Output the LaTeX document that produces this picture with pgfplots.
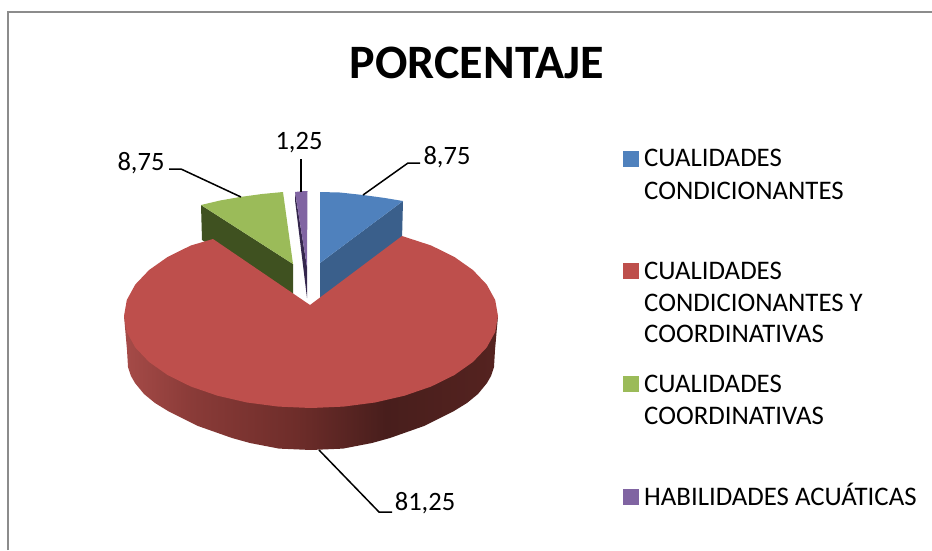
\documentclass[border=0pt]{standalone}
\usepackage{fontspec}
\setmainfont{Carlito}
\usepackage{pgfplots}
\pgfplotsset{compat=1.18}

\definecolor{blueTop}{HTML}{4F81BD}
\definecolor{blueSide}{HTML}{3A5F8B}
\definecolor{redTop}{HTML}{BE4F4C}
\definecolor{greenTop}{HTML}{9BBB59}
\definecolor{greenSide}{HTML}{3F5120}
\definecolor{purpleTop}{HTML}{8064A2}
\definecolor{purpleSide}{HTML}{35274D}
\definecolor{frameGray}{HTML}{8C8C8C}
\definecolor{redA}{HTML}{A64B48}
\definecolor{redB}{HTML}{8A3B38}
\definecolor{redC}{HTML}{6E2D2A}
\definecolor{redD}{HTML}{481E1C}
\definecolor{redE}{HTML}{552320}

% side of the red slice, 25bp-75bp spans the path
\pgfdeclarehorizontalshading{redside}{100bp}{
  color(0bp)=(redA);
  color(25bp)=(redA);
  color(34bp)=(redB);
  color(48bp)=(redC);
  color(60bp)=(redD);
  color(75bp)=(redE);
  color(100bp)=(redE)}

\tikzset{
  lbl/.style={font=\fontsize{26.5}{30}\selectfont, inner sep=0pt},
  leg/.style={font=\fontsize{26.8}{30}\selectfont, inner sep=0pt, anchor=base west},
}

\begin{document}
\begin{tikzpicture}
\begin{axis}[
  scale only axis, width=932pt, height=550pt,
  xmin=0, xmax=932, ymin=0, ymax=550, y dir=reverse,
  hide axis, clip=true,
]
% keeps the page at the full 932x550
\path (axis cs:0,0) rectangle (axis cs:932,550);

% frame
\addplot[frameGray, line width=1.5pt] coordinates {(8,550) (8,12) (932,12)};

% side faces
\addplot[fill=blueSide, draw=none] coordinates {(320,263) (403,201) (402,240) (320,300)} -- cycle;
\addplot[fill=greenSide, draw=none] coordinates {(201,205) (293,264) (293,297) (202,240)} -- cycle;
\addplot[fill=purpleSide, draw=none] coordinates {(295,192) (307,267) (307,298) (295,200)} -- cycle;
\addplot[shading=redside, draw=none] coordinates {
  (124,316) (127,350) (128,367) (131,376) (135,383) (144,394) (155,403) (168,411)
  (182,418) (198,426) (215,432) (232,438) (250,443) (279,448.6) (311,450) (343,448.6)
  (372,443) (390,438) (407,432) (424,426) (440,418) (454,411) (467,403) (478,394)
  (487,383) (491,376) (494,367) (495,350) (498,316)} -- cycle;

% top faces
\addplot[fill=blueTop, draw=none] coordinates {(320,263) (320,192) (340,192.5) (363,195) (385,198) (403,201)} -- cycle;
\addplot[fill=greenTop, draw=none] coordinates {(293,264) (201,205) (220,200.5) (240,197) (262,194) (283,192)} -- cycle;
\addplot[fill=purpleTop, draw=none] coordinates {(307,267) (295,192) (301,191.3) (307.5,191)} -- cycle;
\addplot[fill=redTop, draw=none] coordinates {
  (310,305) (402,236) (431.2,245.5) (454.3,256.9) (472.9,270) (486.7,284.5)
  (495.2,300) (498,316) (495.2,332) (486.7,347.5) (472.9,362) (454.3,375.1)
  (431.2,386.5) (404.5,395.7) (375,402.5) (343.5,406.6) (311,408) (278.5,406.6)
  (247,402.5) (217.5,395.7) (190.8,386.5) (167.7,375.1) (149.1,362) (135.3,347.5)
  (126.8,332) (124,316) (126.8,300) (135.3,284.5) (149.1,270) (167.7,256.9)
  (190.8,245.5) (213,239)} -- cycle;

% leader lines
\addplot[black, line width=1.5pt] coordinates {(363,195) (408,163) (420,163)};
\addplot[black, line width=1.5pt] coordinates {(241,197) (181,169) (169,169)};
\addplot[black, line width=1.5pt] coordinates {(301,192) (301,159)};
\addplot[black, line width=1.5pt] coordinates {(319,450) (379,512) (392,512)};

% legend keys
\addplot[only marks, mark=square*, mark size=7.5pt, blueTop, mark options={draw=none}] coordinates {(630.5,158.5)};
\addplot[only marks, mark=square*, mark size=7.5pt, redTop, mark options={draw=none}] coordinates {(630.5,270.5)};
\addplot[only marks, mark=square*, mark size=7.5pt, greenTop, mark options={draw=none}] coordinates {(630.5,383.5)};
\addplot[only marks, mark=square*, mark size=7.5pt, purpleTop, mark options={draw=none}] coordinates {(630.5,496.5)};

% title
\node[anchor=center, font=\fontsize{48}{54}\selectfont\bfseries] at (axis cs:477,63) {PORCENTAJE};

% data labels
\node[lbl, anchor=center] at (axis cs:447,157) {8,75};
\node[lbl, anchor=center] at (axis cs:141,163) {8,75};
\node[lbl, anchor=center] at (axis cs:299,143) {1,25};
\node[lbl, anchor=center] at (axis cs:425,503) {81,25};

% legend text
\node[leg] at (axis cs:644,166) {CUALIDADES};
\node[leg] at (axis cs:644,199) {CONDICIONANTES};
\node[leg] at (axis cs:644,279) {CUALIDADES};
\node[leg] at (axis cs:644,311) {CONDICIONANTES Y};
\node[leg] at (axis cs:644,342) {COORDINATIVAS};
\node[leg] at (axis cs:644,392) {CUALIDADES};
\node[leg] at (axis cs:644,424) {COORDINATIVAS};
\node[leg] at (axis cs:644,505) {HABILIDADES ACUÁTICAS};
\end{axis}
\end{tikzpicture}
\end{document}
